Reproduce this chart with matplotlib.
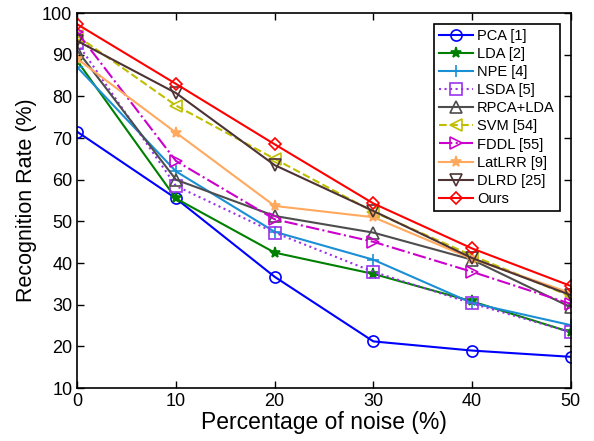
import matplotlib
matplotlib.use("Agg")
import matplotlib.pyplot as plt

plt.rcParams["font.family"] = ["Liberation Sans", "DejaVu Sans"]

noise = [0, 10, 20, 30, 40, 50]

pca    = [71.5, 55.5, 36.7, 21.2, 19.0, 17.5]
lda    = [88.5, 55.5, 42.5, 37.4, 30.8, 23.4]
npe    = [87.0, 62.0, 47.5, 40.8, 30.4, 25.1]
lsda   = [92.8, 58.5, 47.3, 37.9, 30.3, 23.4]
rpca   = [91.0, 60.0, 51.3, 47.3, 40.8, 29.4]
svm    = [94.5, 77.8, 65.0, 52.3, 41.8, 32.0]
fddl   = [95.4, 64.5, 50.5, 45.1, 37.9, 30.2]
latlrr = [89.0, 71.3, 53.7, 51.0, 41.0, 32.8]
dlrd   = [93.3, 80.8, 63.5, 52.5, 41.2, 32.3]
ours   = [97.3, 83.0, 68.5, 54.3, 43.5, 34.5]

# (label, values, color, linestyle, marker, filled)
series = [
    ("PCA [1]",   pca,    "#0000ff", "-",  "o", False),
    ("LDA [2]",   lda,    "#008000", "-",  "*", True),
    ("NPE [4]",   npe,    "#1a8fd4", "-",  "+", True),
    ("LSDA [5]",  lsda,   "#9933ee", ":",  "s", False),
    ("RPCA+LDA",  rpca,   "#4d4d4d", "-",  "^", False),
    ("SVM [54]",  svm,    "#bfbf00", "--", "<", False),
    ("FDDL [55]", fddl,   "#cc00cc", "-.", ">", False),
    ("LatLRR [9]", latlrr, "#ffa95e", "-", "*", True),
    ("DLRD [25]", dlrd,   "#4d3333", "-",  "v", False),
    ("Ours",      ours,   "#ff0000", "-",  "D", False),
]

fig = plt.figure(figsize=(5.94, 4.41), dpi=100)
ax = fig.add_axes([0.13, 0.12, 0.831, 0.8505])

for label, vals, col, ls, mk, filled in series:
    ms = 8 if mk != "D" else 6.5
    ax.plot(noise, vals, color=col, linestyle=ls, linewidth=1.5,
            marker=mk, markersize=ms, markeredgewidth=1.2,
            markerfacecolor=col if filled else "none",
            markeredgecolor=col, label=label)

ax.set_xlim(0, 50)
ax.set_ylim(10, 100)
ax.set_xticks(noise)
ax.set_yticks(range(10, 101, 10))
ax.tick_params(direction="in", top=True, right=True, labelsize=13, length=5, width=1)
for sp in ax.spines.values():
    sp.set_linewidth(1.2)
ax.set_xlabel("Percentage of noise (%)", fontsize=16.5, labelpad=1)
ax.set_ylabel("Recognition Rate (%)", fontsize=15.5, labelpad=4)

leg = ax.legend(loc="upper right", fontsize=10.5, fancybox=False, framealpha=1,
                edgecolor="black", borderaxespad=0.75, handlelength=2.3,
                labelspacing=0.28, borderpad=0.35, handletextpad=0.3)
leg.get_frame().set_linewidth(1.2)

fig.savefig("out.png", dpi=100)
